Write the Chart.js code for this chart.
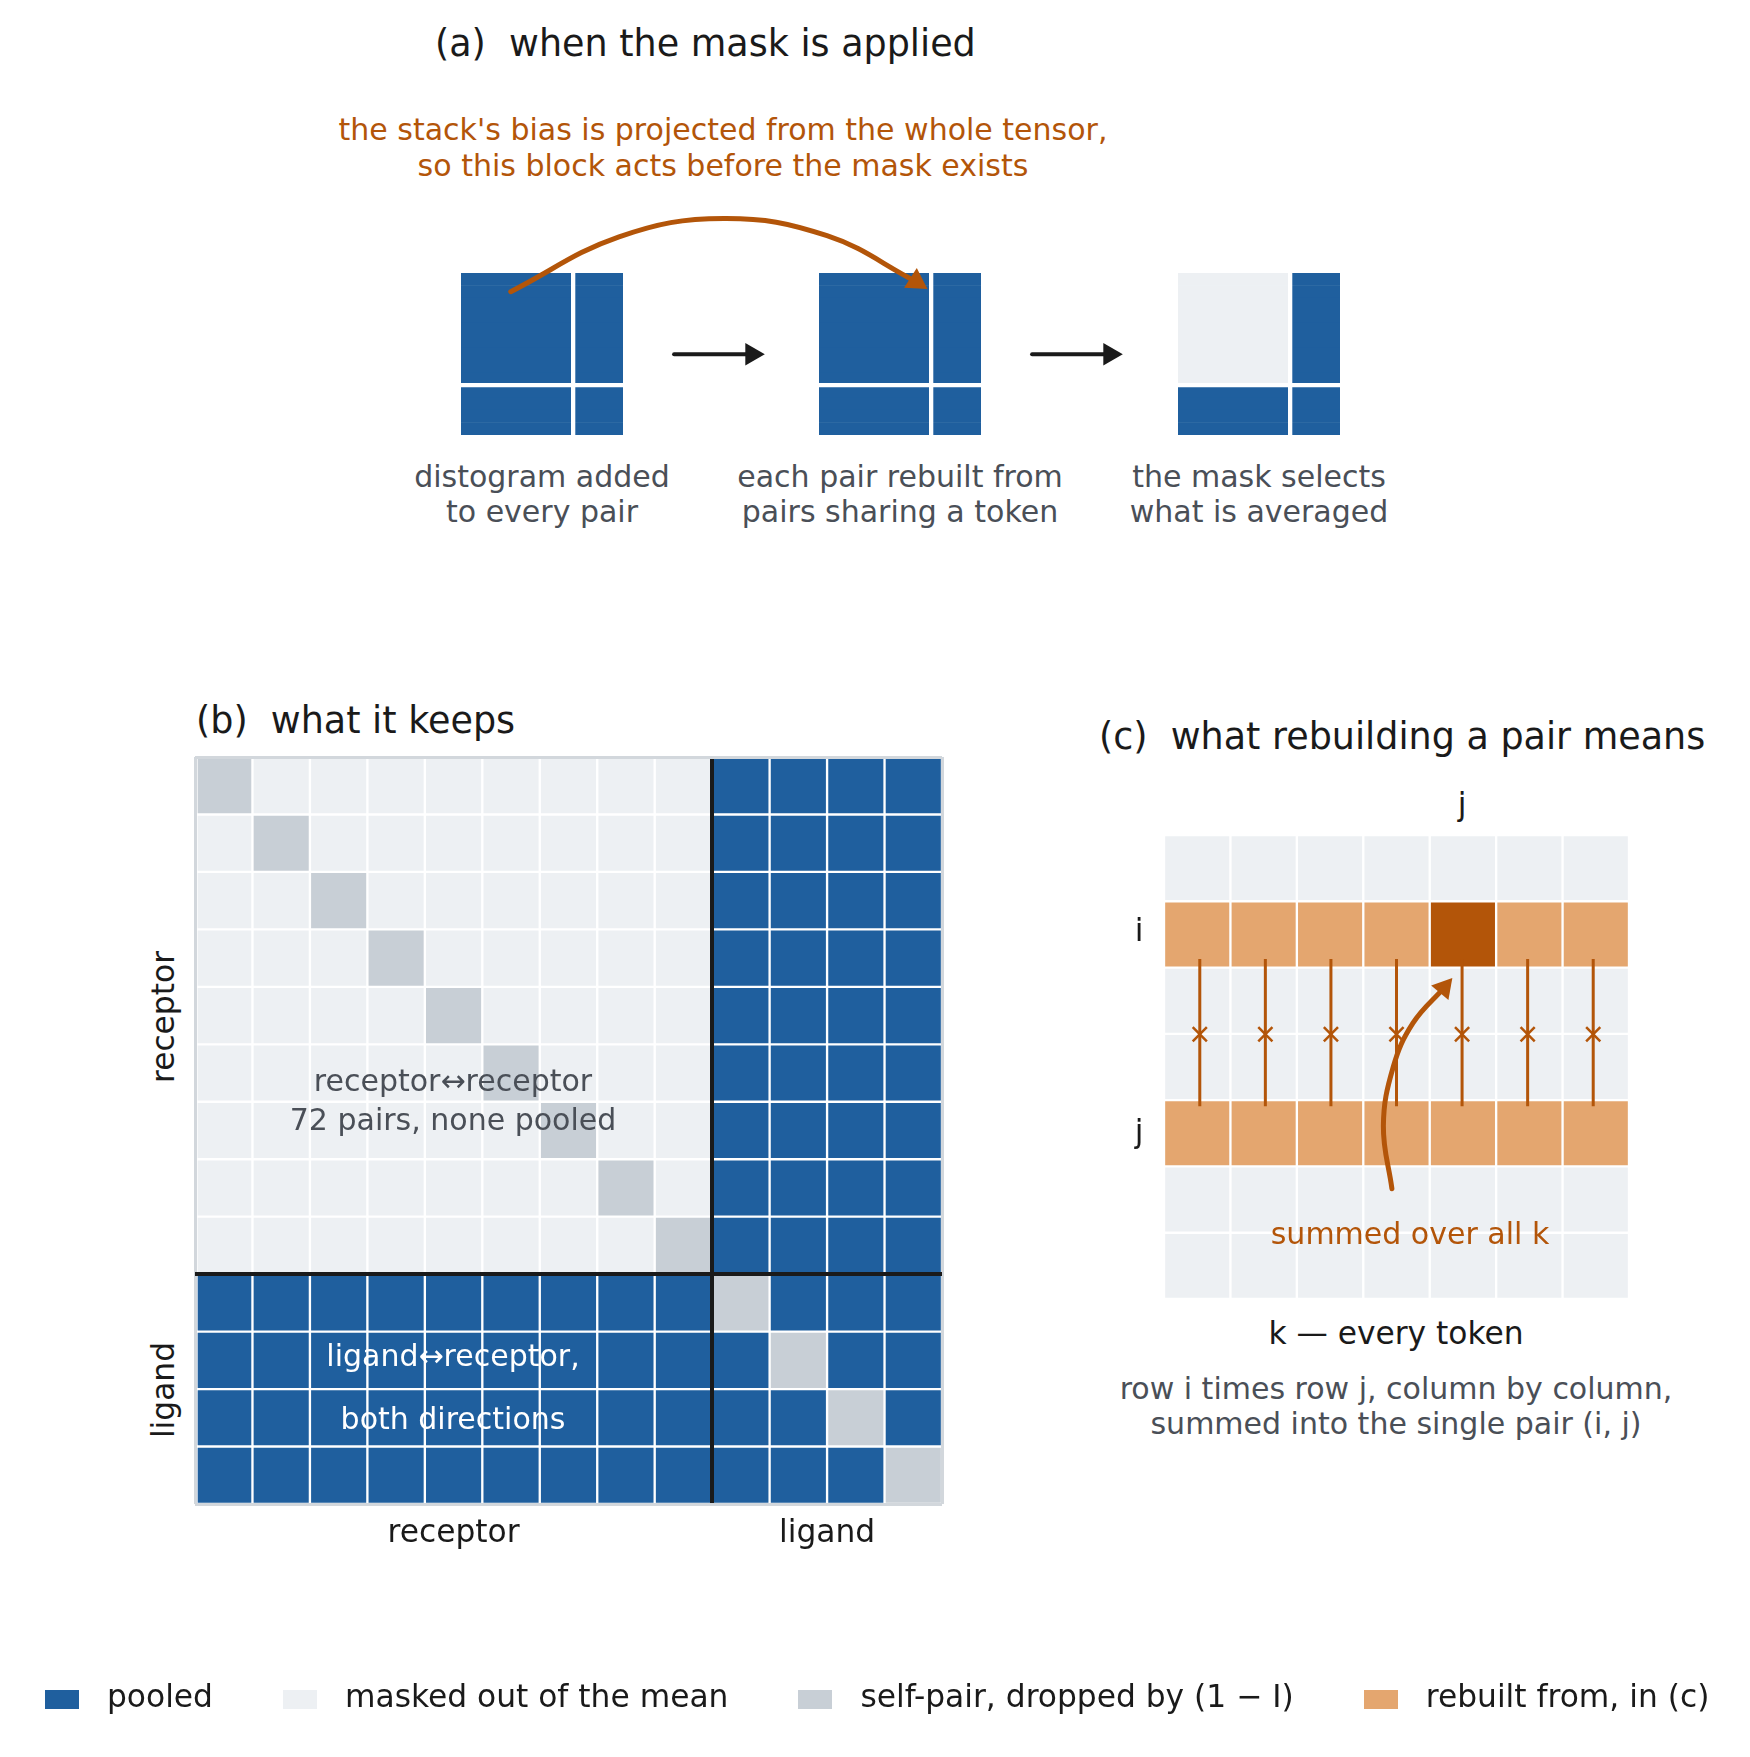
<!DOCTYPE html>
<html>
<head>
<meta charset="utf-8">
<title>when the mask is applied</title>
<script src="https://cdn.jsdelivr.net/npm/chart.js@4.4.1/dist/chart.umd.min.js"></script>
<style>
  html, body { margin: 0; padding: 0; background: #ffffff; }
  body { position: relative; width: 1750px; height: 1757px; overflow: hidden; font-family: 'DejaVu Sans', sans-serif; }
  canvas { position: absolute; }
  .note { position: absolute; white-space: pre; line-height: 1; }
</style>
</head>
<body>
<script>
// token groups
const RECEPTOR_N = 9;
const LIGAND_N = 4;
const GROUP_NAMES = ["receptor", "ligand"];

// (a) state of each quadrant at the three stages
const STAGE_RR = ["p", "p", "m"];
const STAGE_RL = ["p", "p", "p"];
const STAGE_LR = ["p", "p", "p"];
const STAGE_LL = ["p", "p", "p"];
const STAGE_CAPTIONS = [
  ["distogram added", "to every pair"],
  ["each pair rebuilt from", "pairs sharing a token"],
  ["the mask selects", "what is averaged"],
];

// (b) p = pooled, m = masked out, s = self-pair
const MASK_B = [
  "smmmmmmmmpppp",
  "msmmmmmmmpppp",
  "mmsmmmmmmpppp",
  "mmmsmmmmmpppp",
  "mmmmsmmmmpppp",
  "mmmmmsmmmpppp",
  "mmmmmmsmmpppp",
  "mmmmmmmsmpppp",
  "mmmmmmmmspppp",
  "pppppppppsppp",
  "ppppppppppspp",
  "pppppppppppsp",
  "pppppppppppps",
];

// (c) o = rebuilt from, d = the rebuilt pair
const GRID_C = [
  "mmmmmmm",
  "oooodoo",
  "mmmmmmm",
  "mmmmmmm",
  "ooooooo",
  "mmmmmmm",
  "mmmmmmm",
];
const ROW_I = 1;
const ROW_J = 4;

const LEGEND_KEYS = ["p", "m", "s", "o"];
const LEGEND_LABELS = ["pooled", "masked out of the mean", "self-pair, dropped by (1 \u2212 I)", "rebuilt from, in (c)"];

// colours
const INK = "#1a1a1a";
const GREY_TEXT = "#4a4f57";
const ORANGE = "#b35509";
const FRAME = "#d2d7dc";
const STATE_COLOR = { p: "#1f5f9e", m: "#edf0f3", s: "#c8cfd6", o: "#e4a66f", d: "#b35509" };

// layout
const A_LEFT = [461, 819, 1178];
const A_TOP = 273;
const A_SIZE = 162;
const B_BOX = { x: 195, y: 757, w: 747, h: 747 };
const B_LABEL_BAND = 50;
const C_BOX = { x: 1164, y: 835, w: 465, h: 464 };

Chart.defaults.font.family = "'DejaVu Sans', sans-serif";
Chart.defaults.animation = false;
Chart.defaults.responsive = false;
Chart.defaults.events = [];
Chart.defaults.plugins.legend.display = false;
Chart.defaults.plugins.tooltip.enabled = false;

function mount(box, pad, extraBottom = 0) {
  const c = document.createElement("canvas");
  const w = box.w + pad.left + pad.right;
  const h = box.h + pad.top + pad.bottom + extraBottom;
  c.width = w;
  c.height = h;
  c.style.left = box.x - pad.left + "px";
  c.style.top = box.y - pad.top + "px";
  c.style.width = w + "px";
  c.style.height = h + "px";
  document.body.appendChild(c);
  return c;
}

function note(text, x, y, size, color, align = "center", rotate = 0) {
  const d = document.createElement("div");
  d.className = "note";
  d.textContent = text;
  d.style.left = x + "px";
  d.style.top = y + "px";
  d.style.fontSize = size + "px";
  d.style.color = color;
  const tx = align === "left" ? "0" : "-50%";
  d.style.transform = "translate(" + tx + ", -50%)" + (rotate ? " rotate(" + rotate + "deg)" : "");
  document.body.appendChild(d);
}

// stacked horizontal bars, one bar per cell
function cellChart(canvas, rows, colWidths, gap, pad, scales) {
  const datasets = colWidths.map((w, c) => ({
    data: rows.map(() => w),
    backgroundColor: (ctx) => (rows[ctx.dataIndex] ? STATE_COLOR[rows[ctx.dataIndex][c]] : "transparent"),
    borderColor: "#ffffff",
    borderWidth: gap,
    borderSkipped: false,
    barPercentage: 1,
    categoryPercentage: 1,
  }));
  const total = colWidths.reduce((a, b) => a + b, 0);
  return new Chart(canvas, {
    type: "bar",
    data: { labels: rows.map((_, i) => i), datasets },
    options: {
      indexAxis: "y",
      layout: { padding: pad },
      scales: scales || {
        x: { type: "linear", stacked: true, display: false, min: 0, max: total },
        y: { stacked: true, display: false },
      },
    },
  });
}

function headCenter(tip, angle, r, ux, uy) {
  const a = (angle * Math.PI) / 180;
  return { x: tip[0] - (r * Math.sin(a)) / ux, y: tip[1] + (r * Math.cos(a)) / uy };
}

function arrowSets(path, angle, r, width, color, ux, uy) {
  const tip = path[path.length - 1];
  const head = headCenter(tip, angle, r, ux, uy);
  const pts = path.slice(0, -1).map((p) => ({ x: p[0], y: p[1] })).concat([head]);
  return [
    { data: [head], pointStyle: "triangle", pointRotation: angle, pointRadius: r, pointBackgroundColor: color, pointBorderWidth: 0, clip: false },
    { data: pts, showLine: true, tension: 0.4, borderColor: color, borderWidth: width, borderCapStyle: "round", pointRadius: 0, clip: false },
  ];
}

function overlay(canvas, pad, xMax, yMax, datasets) {
  return new Chart(canvas, {
    type: "scatter",
    data: { datasets },
    options: {
      layout: { padding: pad },
      scales: {
        x: { type: "linear", display: false, min: 0, max: xMax },
        y: { type: "linear", display: false, min: 0, max: yMax, reverse: true },
      },
    },
  });
}

const TOKENS = RECEPTOR_N + LIGAND_N;

// (a) the three stages; the receptor/ligand split is drawn by the axes' grid
A_LEFT.forEach((left, k) => {
  const rows = Array.from({ length: TOKENS }, (_, r) =>
    r < RECEPTOR_N ? STAGE_RR[k] + STAGE_RL[k] : STAGE_LR[k] + STAGE_LL[k]
  );
  const pad = { left: 0, right: 0, top: 0, bottom: 0 };
  const split = 4.3;
  const scales = {
    x: {
      type: "linear", stacked: true, min: 0, max: TOKENS,
      afterBuildTicks: (s) => { s.ticks = [{ value: RECEPTOR_N }]; },
      ticks: { display: false },
      border: { display: false },
      grid: { z: 1, drawTicks: false, color: "#ffffff", lineWidth: split },
    },
    y: {
      stacked: true,
      ticks: { display: false },
      border: { display: false },
      grid: { z: 1, drawTicks: false, lineWidth: split, color: (ctx) => (ctx.index === RECEPTOR_N ? "#ffffff" : "rgba(0,0,0,0)") },
    },
  };
  cellChart(mount({ x: left, y: A_TOP, w: A_SIZE, h: A_SIZE }, pad), rows, [RECEPTOR_N, LIGAND_N], 0, pad, scales);
  STAGE_CAPTIONS[k].forEach((line, n) => note(line, left + A_SIZE / 2, 477 + n * 35, 30, GREY_TEXT));
});

(function () {
  const box = { x: A_LEFT[0], y: A_TOP, w: A_LEFT[2] + A_SIZE - A_LEFT[0], h: A_SIZE };
  const pad = { left: 20, right: 20, top: 90, bottom: 20 };
  const u = A_SIZE / TOKENS;
  const pitch = (A_LEFT[1] - A_LEFT[0]) / u;
  const sets = arrowSets([[3.99, 1.5], [12.68, -2.9], [21.1, -4.37], [29.37, -2.99], [37.43, 1.28]], 123, 13.5, 5, ORANGE, u, u);
  [0, 1].forEach((k) => {
    const g = k * pitch + TOKENS;
    sets.push(...arrowSets([[g + 4.1, 6.52], [g + 11.38, 6.52]], 90, 13, 4, INK, u, u));
  });
  overlay(mount(box, pad), pad, box.w / u, TOKENS, sets);
})();

note("(a)  when the mask is applied", 435, 44, 36.5, INK, "left");
note("the stack's bias is projected from the whole tensor,", 723, 130, 30, ORANGE);
note("so this block acts before the mask exists", 723, 166, 30, ORANGE);

// (b) what it keeps
(function () {
  const pad = { left: 6, right: 6, top: 6, bottom: 6 };
  const gridColor = (ctx) =>
    ctx.index === RECEPTOR_N ? INK : ctx.index === 0 || ctx.index === undefined ? FRAME : "rgba(0,0,0,0)";
  const gridWidth = (ctx) => (ctx.index === RECEPTOR_N ? 4 : 3);
  const scales = {
    x: {
      type: "linear", stacked: true, min: 0, max: TOKENS,
      afterBuildTicks: (s) => { s.ticks = [0, RECEPTOR_N, TOKENS].map((v) => ({ value: v })); },
      ticks: { display: false },
      border: { display: false },
      grid: {
        z: 1, drawTicks: false,
        color: (ctx) => (ctx.tick && ctx.tick.value === RECEPTOR_N ? INK : FRAME),
        lineWidth: (ctx) => (ctx.tick && ctx.tick.value === RECEPTOR_N ? 4 : 3),
      },
    },
    xGroups: {
      type: "linear", axis: "x", position: "bottom", min: 0, max: TOKENS,
      afterBuildTicks: (s) => { s.ticks = [RECEPTOR_N / 2, RECEPTOR_N + LIGAND_N / 2].map((v) => ({ value: v })); },
      afterFit: (s) => { s.height = B_LABEL_BAND; },
      ticks: { callback: (v, i) => GROUP_NAMES[i], color: INK, font: { size: 31.3 }, padding: 11, autoSkip: false, maxRotation: 0 },
      grid: { display: false, drawTicks: false },
      border: { display: false },
    },
    y: {
      stacked: true,
      ticks: { display: false },
      border: { display: false },
      grid: { z: 1, drawTicks: false, color: gridColor, lineWidth: gridWidth },
    },
  };
  cellChart(mount(B_BOX, pad, B_LABEL_BAND), MASK_B, MASK_B[0].split("").map(() => 1), 1.5, pad, scales);
})();

note("(b)  what it keeps", 196, 721, 36.5, INK, "left");
note("receptor", 164, 1017, 31.3, INK, "center", -90);
note("ligand", 164, 1390, 31.3, INK, "center", -90);
note("receptor\u2194receptor", 453, 1081, 30, GREY_TEXT);
note("72 pairs, none pooled", 453, 1120, 30, GREY_TEXT);
note("ligand\u2194receptor,", 453, 1356, 30, "#ffffff");
note("both directions", 453, 1419, 30, "#ffffff");

// (c) what rebuilding a pair means
(function () {
  const cols = GRID_C[0].length;
  const pad = { left: 4, right: 4, top: 4, bottom: 4 };
  cellChart(mount(C_BOX, pad), GRID_C, GRID_C[0].split("").map(() => 1), 1.5, pad);

  const ux = C_BOX.w / cols;
  const uy = C_BOX.h / GRID_C.length;
  const linkTop = ROW_I + 1 - 0.15;
  const linkBottom = ROW_J + 0.1;
  const linkMid = (ROW_I + 1 + ROW_J) / 2;
  const sets = arrowSets([[3.43, 5.36], [3.30, 4.40], [3.45, 3.50], [3.75, 2.83], [4.35, 2.14]], 40, 13, 5, ORANGE, ux, uy);
  sets.push({
    data: Array.from({ length: cols }, (_, k) => ({ x: k + 0.5, y: linkMid })),
    pointStyle: "crossRot", pointRadius: 10, pointBorderColor: ORANGE, pointBorderWidth: 2.5, clip: false,
  });
  for (let k = 0; k < cols; k++) {
    sets.push({
      data: [{ x: k + 0.5, y: linkTop }, { x: k + 0.5, y: linkBottom }],
      showLine: true, borderColor: ORANGE, borderWidth: 3, pointRadius: 0, clip: false,
    });
  }
  const opad = { left: 10, right: 10, top: 10, bottom: 10 };
  overlay(mount(C_BOX, opad), opad, cols, GRID_C.length, sets);
})();

note("(c)  what rebuilding a pair means", 1099, 737, 36.5, INK, "left");
note("j", 1462, 805, 31.3, INK);
note("i", 1139, 931, 31.3, INK);
note("j", 1139, 1132, 31.3, INK);
note("summed over all k", 1410, 1234, 30, ORANGE);
note("k \u2014 every token", 1396, 1334, 31.3, INK);
note("row i times row j, column by column,", 1396, 1389, 30, GREY_TEXT);
note("summed into the single pair (i, j)", 1396, 1424, 30, GREY_TEXT);

// legend
function swatch(color) {
  const c = document.createElement("canvas");
  c.width = 34;
  c.height = 19;
  const g = c.getContext("2d");
  g.fillStyle = color;
  g.fillRect(0, 0, c.width, c.height);
  return c;
}

(function () {
  const box = { x: -129, y: 1626, w: 2000, h: 260 };
  const pad = { left: 0, right: 0, top: 0, bottom: 0 };
  new Chart(mount(box, pad), {
    type: "bar",
    data: {
      labels: [],
      datasets: LEGEND_KEYS.map((k, i) => ({ label: LEGEND_LABELS[i], data: [], backgroundColor: STATE_COLOR[k], borderWidth: 0 })),
    },
    options: {
      layout: { padding: pad },
      scales: { x: { display: false }, y: { display: false } },
      plugins: {
        legend: {
          display: true,
          position: "top",
          labels: {
            usePointStyle: true,
            pointStyleWidth: 58.7,
            boxHeight: 19,
            padding: 57.65,
            color: INK,
            font: { size: 31.3 },
            generateLabels: (chart) =>
              chart.data.datasets.map((ds, i) => ({
                text: ds.label,
                pointStyle: swatch(ds.backgroundColor),
                fillStyle: ds.backgroundColor,
                strokeStyle: "rgba(0,0,0,0)",
                lineWidth: 0,
                hidden: false,
                datasetIndex: i,
                fontColor: INK,
              })),
          },
        },
      },
    },
  });
})();
</script>
</body>
</html>
